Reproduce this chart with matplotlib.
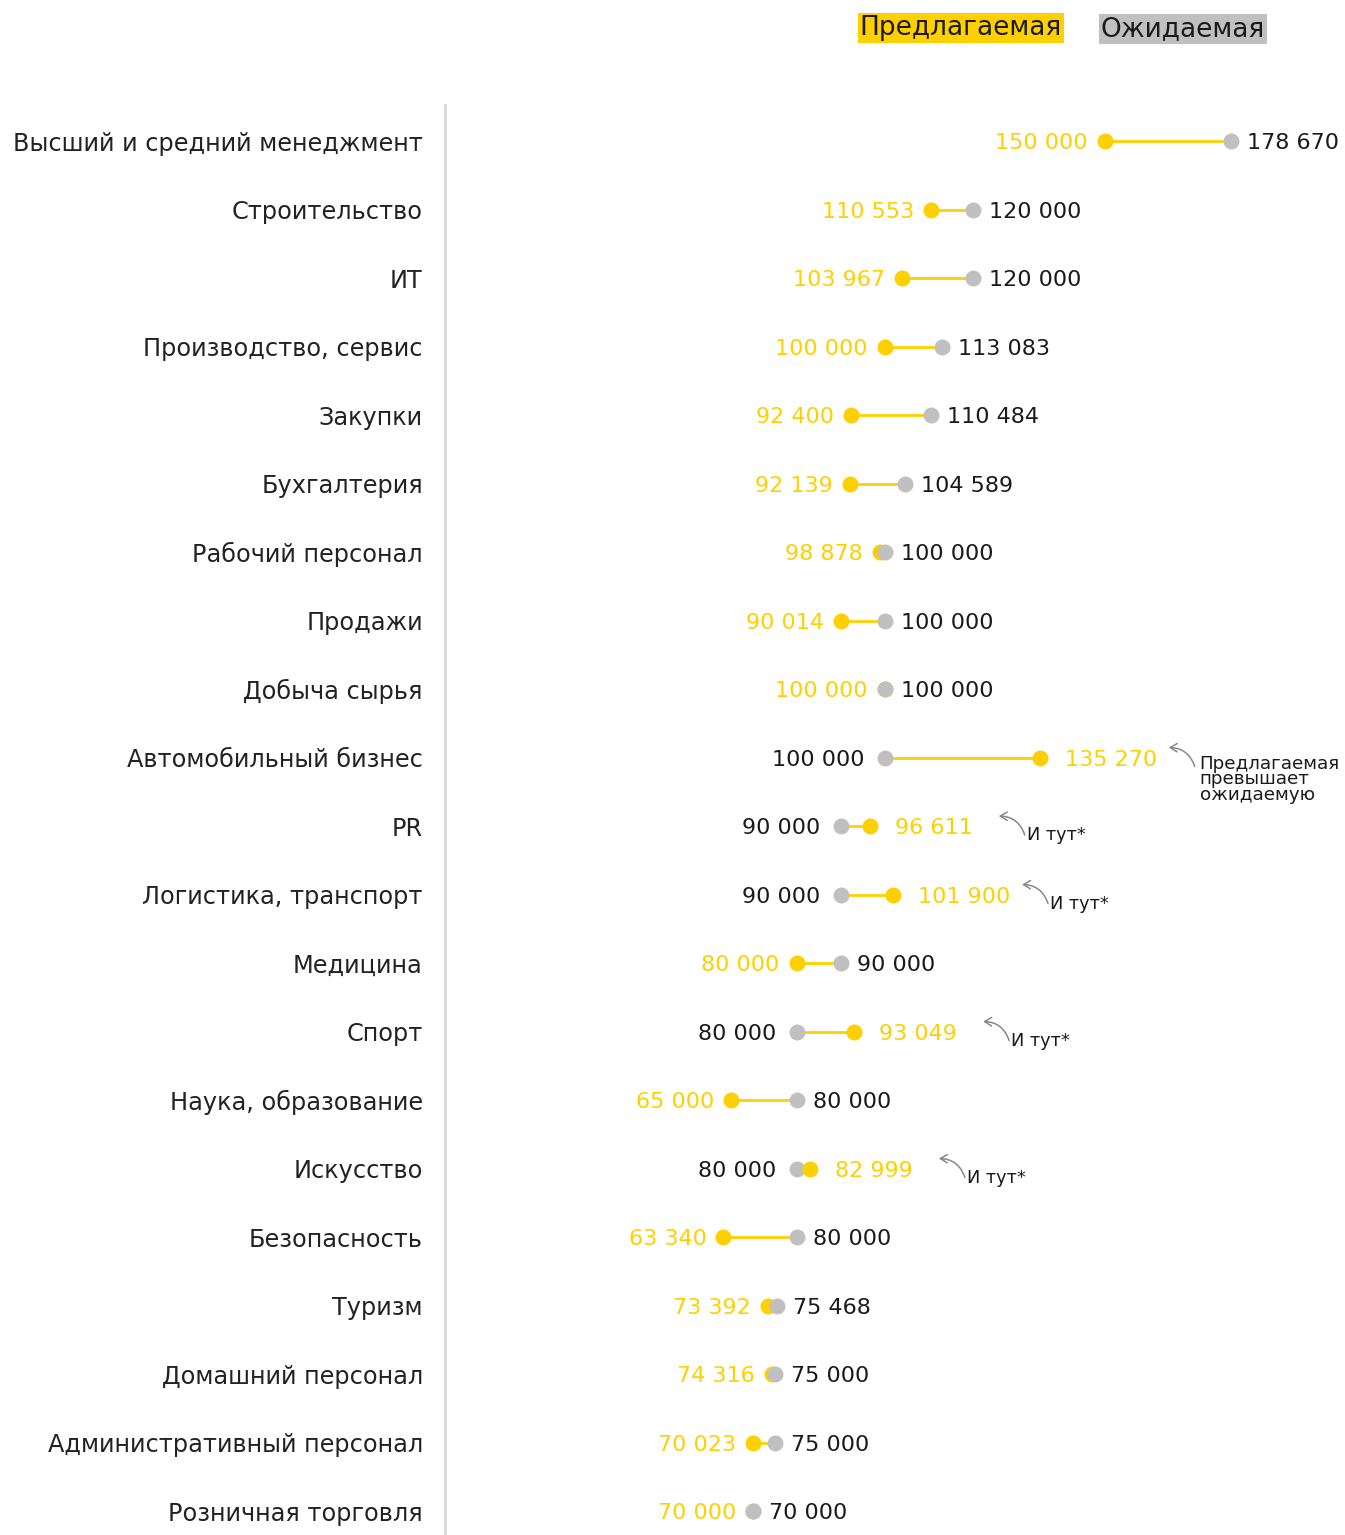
import matplotlib
matplotlib.use("Agg")
import matplotlib.pyplot as plt

categories = [
  "Высший и средний менеджмент", "Строительство", "ИТ", "Производство, сервис",
  "Закупки", "Бухгалтерия", "Рабочий персонал", "Продажи", "Добыча сырья",
  "Автомобильный бизнес", "PR", "Логистика, транспорт", "Медицина", "Спорт",
  "Наука, образование", "Искусство", "Безопасность", "Туризм",
  "Домашний персонал", "Административный персонал", "Розничная торговля",
]
proposed = [150000, 110553, 103967, 100000, 92400, 92139, 98878, 90014, 100000,
            135270, 96611, 101900, 80000, 93049, 65000, 82999, 63340, 73392,
            74316, 70023, 70000]
expected = [178670, 120000, 120000, 113083, 110484, 104589, 100000, 100000, 100000,
            100000, 90000, 90000, 90000, 80000, 80000, 80000, 80000, 75468,
            75000, 75000, 70000]
note_rows = ["Автомобильный бизнес", "PR", "Логистика, транспорт", "Спорт", "Искусство"]
note_main = "Предлагаемая\nпревышает\nожидаемую"
note_small = "И тут*"

YELLOW = "#FFD000"
GREY = "#C0C0C0"
TEXT = "#1a1a1a"
FS = 16
plt.rcParams["font.family"] = ["DejaVu Sans"]


def fmt(v):
  return f"{v:,}".replace(",", " ")


fig = plt.figure(figsize=(13.45, 15.35), dpi=100)
ax = fig.add_axes([445 / 1345, 0, 900 / 1345, 1430 / 1535])
ax.set_xlim(0, 204700)
ax.set_ylim(len(categories) - 0.65, -0.526)

for i, (p, e) in enumerate(zip(proposed, expected)):
  ax.plot([p, e], [i, i], color=YELLOW, lw=2, zorder=2)
  p_top = p > e
  ax.plot(p, i, "o", color=YELLOW, ms=11.5, mec="none", zorder=4 if p_top else 3)
  ax.plot(e, i, "o", color=GREY, ms=11.5, mec="none", zorder=3 if p_top else 4)
  if p_top:
    ax.annotate(fmt(e), (e, i), xytext=(-20, 0), textcoords="offset pixels",
                ha="right", va="center_baseline", fontsize=FS, color=TEXT)
    ax.annotate(fmt(p), (p, i), xytext=(25, 0), textcoords="offset pixels",
                ha="left", va="center_baseline", fontsize=FS, color=YELLOW)
  else:
    ax.annotate(fmt(p), (p, i), xytext=(-17, 0), textcoords="offset pixels",
                ha="right", va="center_baseline", fontsize=FS, color=YELLOW)
    ax.annotate(fmt(e), (e, i), xytext=(16, 0), textcoords="offset pixels",
                ha="left", va="center_baseline", fontsize=FS, color=TEXT)

# стрелки и подписи к строкам, где предлагаемая выше
for k, name in enumerate(note_rows):
  i = categories.index(name)
  p = proposed[i]
  x0, y0 = ax.transData.transform((p, i))
  head = (x0 + 129, y0 + 10)
  tail = (x0 + 155, y0 - 9)
  ax.annotate("", xy=head, xycoords="figure pixels", xytext=tail, textcoords="figure pixels",
              arrowprops=dict(arrowstyle="->,head_length=0.5,head_width=0.3", color="#888888",
                              lw=1.1, connectionstyle="arc3,rad=0.35", shrinkA=0, shrinkB=0))
  if k == 0:
    ax.annotate(note_main, (p, i), xytext=(160, 3), textcoords="offset pixels",
                ha="left", va="top", fontsize=13.2, color=TEXT, linespacing=0.85)
  else:
    ax.annotate(note_small, (p, i), xytext=(157, -7), textcoords="offset pixels",
                ha="left", va="center_baseline", fontsize=12.8, color=TEXT)

ax.set_yticks(range(len(categories)))
ax.set_yticklabels(categories, fontsize=17.3, color="#222222")
ax.tick_params(axis="y", length=0, pad=16)
ax.set_xticks([])
for side in ["top", "right", "bottom"]:
  ax.spines[side].set_visible(False)
ax.spines["left"].set_color("#D9D9D9")
ax.spines["left"].set_linewidth(2)

fig.text(961 / 1345, 1 - 28 / 1535, "Предлагаемая", ha="center", va="center", fontsize=19,
         color=TEXT, bbox=dict(facecolor=YELLOW, edgecolor="none", pad=1.5))
fig.text(1183 / 1345, 1 - 29 / 1535, "Ожидаемая", ha="center", va="center", fontsize=19,
         color=TEXT, bbox=dict(facecolor=GREY, edgecolor="none", pad=1.5))

fig.savefig("out.png", dpi=100)
